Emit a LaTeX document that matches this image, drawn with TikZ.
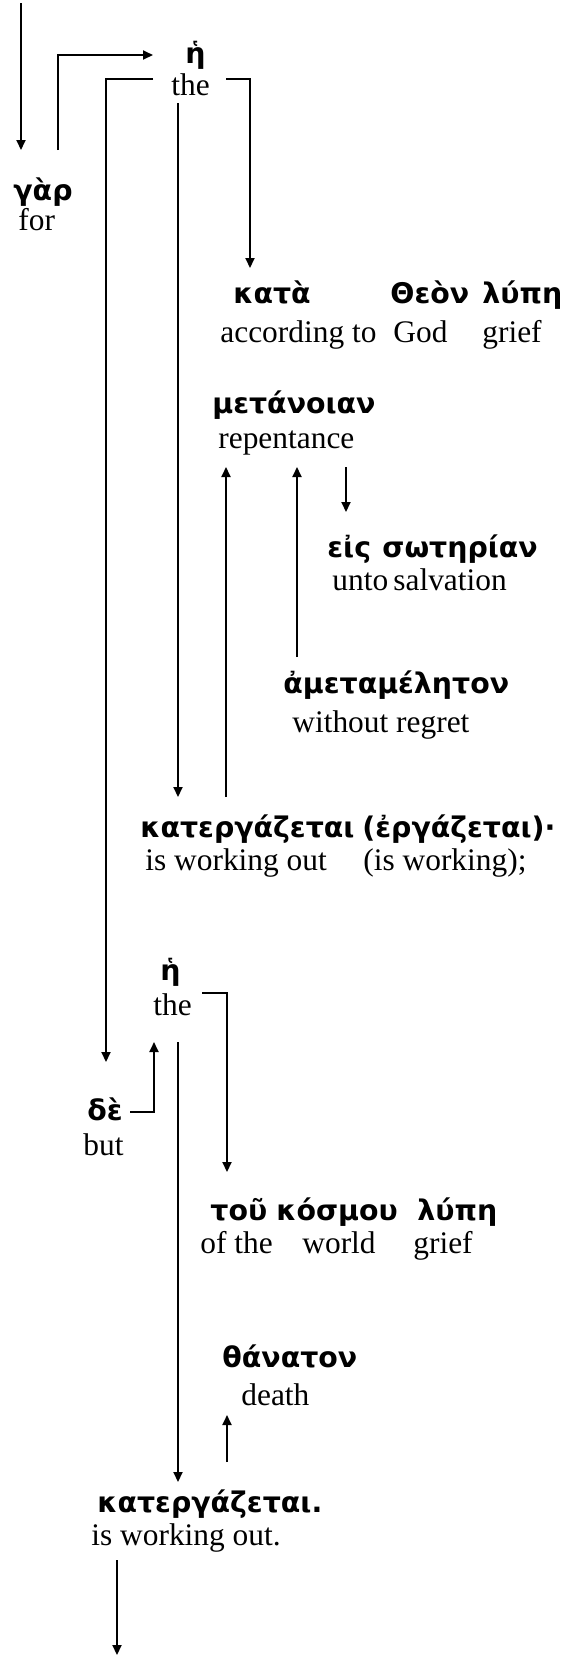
\documentclass[tikz,border=0pt]{standalone}
\usepackage{fontspec}
\setmainfont{Liberation Serif}
\newfontfamily\grkfont{DejaVu Sans}
\usetikzlibrary{arrows.meta}
\tikzset{
  en/.style={anchor=base west, inner sep=0pt, font=\fontsize{15.7}{18}\selectfont},
  gr/.style={anchor=base west, inner sep=0pt, font=\grkfont\bfseries\fontsize{14.2}{17}\selectfont},
  conn/.style={line width=1pt, -{Triangle[length=5pt,width=4.5pt]}},
}
\begin{document}
\begin{tikzpicture}[x=0.5pt,y=-0.5pt]
\useasboundingbox (0,0) rectangle (564,1655);
% ---- Greek words
\node[gr] (h1) at (185,63) {ἡ};
\node[gr] (gar) at (13,200) {γὰρ};
\node[gr] (kata) at (233,303) {κατὰ};
\node[gr] (theon) at (390,303) {Θεὸν};
\node[gr] (lype1) at (482,303) {λύπη};
\node[gr] (metan) at (212,413) {μετάνοιαν};
\node[gr] (eis) at (327,557) {εἰς};
\node[gr] (soter) at (382,557) {σωτηρίαν};
\node[gr] (amet) at (283,693) {ἀμεταμέλητον};
\node[gr] (kat1) at (140,837) {κατεργάζεται};
\node[gr] (erg) at (362,837) {(ἐργάζεται)·};
\node[gr] (h2) at (160,980) {ἡ};
\node[gr] (de) at (87,1120) {δὲ};
\node[gr] (tou) at (210,1220) {τοῦ};
\node[gr] (kosm) at (276,1220) {κόσμου};
\node[gr] (lype2) at (417,1220) {λύπη};
\node[gr] (than) at (222,1367) {θάνατον};
\node[gr] (kat2) at (97,1512) {κατεργάζεται.};
% ---- English glosses
\node[en] (the1) at (171,95) {the};
\node[en] (for) at (18,230) {for};
\node[en] (acc) at (220,342) {according to};
\node[en] (god) at (393,342) {God};
\node[en] (grief1) at (482,342) {grief};
\node[en] (rep) at (218,448) {repentance};
\node[en] (unto) at (332,590) {unto};
\node[en] (salv) at (393,590) {salvation};
\node[en] (without) at (292,732) {without regret};
\node[en] (wo1) at (145,870) {is working out};
\node[en] (wo2) at (363,870) {(is working);};
\node[en] (the2) at (153,1015) {the};
\node[en] (but) at (83,1155) {but};
\node[en] (ofthe) at (200,1253) {of the};
\node[en] (world) at (302,1253) {world};
\node[en] (grief2) at (413,1253) {grief};
\node[en] (death) at (241,1405) {death};
\node[en] (wo3) at (91,1545) {is working out.};
% ---- connector end points
\coordinate (inTop) at (21,3);
\coordinate (inTip) at (21,150);
\coordinate (garS) at (58,150);
\coordinate (garC) at (58,55);
\coordinate (h1L) at (153,55);
\coordinate (lbS) at (153,79);
\coordinate (lbC) at (106,79);
\coordinate (deT) at (106,1062);
\coordinate (rbS) at (226,79);
\coordinate (rbC) at (250,79);
\coordinate (kataT) at (250,268);
\coordinate (midS) at (178,103);
\coordinate (kat1T) at (178,797);
\coordinate (kat1U) at (226,797);
\coordinate (repA) at (226,467);
\coordinate (ametU) at (297,657);
\coordinate (repB) at (297,467);
\coordinate (repD) at (346,467);
\coordinate (eisT) at (346,512);
\coordinate (deR) at (130,1112);
\coordinate (deC) at (154,1112);
\coordinate (h2B) at (154,1042);
\coordinate (rb2S) at (202,993);
\coordinate (rb2C) at (227,993);
\coordinate (touT) at (227,1172);
\coordinate (mid2S) at (178,1042);
\coordinate (kat2T) at (178,1482);
\coordinate (kat2U) at (227,1462);
\coordinate (deathB) at (227,1415);
\coordinate (outS) at (117,1560);
\coordinate (outT) at (117,1655);
% ---- connectors
\draw[conn] (inTop) -- (inTip);
\draw[conn] (garS) -- (garC) -- (h1L);
\draw[conn] (lbS) -- (lbC) -- (deT);
\draw[conn] (rbS) -- (rbC) -- (kataT);
\draw[conn] (midS) -- (kat1T);
\draw[conn] (kat1U) -- (repA);
\draw[conn] (ametU) -- (repB);
\draw[conn] (repD) -- (eisT);
\draw[conn] (deR) -- (deC) -- (h2B);
\draw[conn] (rb2S) -- (rb2C) -- (touT);
\draw[conn] (mid2S) -- (kat2T);
\draw[conn] (kat2U) -- (deathB);
\draw[conn] (outS) -- (outT);
\end{tikzpicture}
\end{document}
